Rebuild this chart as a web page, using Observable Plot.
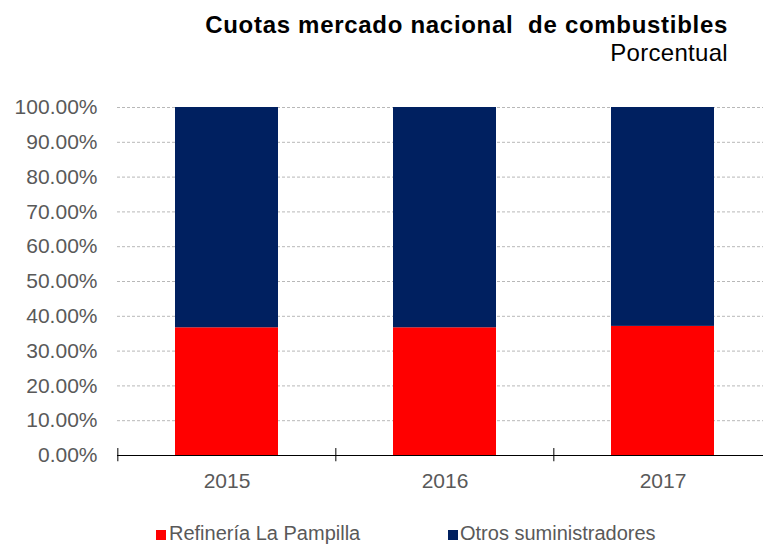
<!DOCTYPE html>
<html>
<head>
<meta charset="utf-8">
<script src="https://cdn.jsdelivr.net/npm/d3@7"></script>
<script src="https://cdn.jsdelivr.net/npm/@observablehq/plot@0.6"></script>
<style>
  html, body { margin: 0; padding: 0; background: #fff; }
  #wrap { position: relative; width: 763px; height: 545px; overflow: hidden; font-family: "Liberation Sans", Arial, sans-serif; }
  #chart { position: absolute; left: 0; top: 0; }
  .t { position: absolute; line-height: 1; white-space: pre; }
  #title { right: 35px; top: 13px; font-size: 24px; font-weight: bold; color: #000; letter-spacing: 0.7px; }
  #subtitle { right: 35px; top: 41px; font-size: 24px; color: #000; letter-spacing: 0.3px; }
  .leg { position: absolute; top: 523px; font-size: 20px; line-height: 1; color: #595959; white-space: pre; }
  .sw { position: absolute; width: 10px; height: 10px; top: 530px; }
</style>
</head>
<body>
<div id="wrap">
  <div id="chart"></div>
  <div id="title" class="t">Cuotas mercado nacional  de combustibles</div>
  <div id="subtitle" class="t">Porcentual</div>
</div>
<script>
const years = ["2015", "2016", "2017"];
const refineria = [36.7, 36.7, 37.1];
const otros = [63.3, 63.3, 62.9];
const seriesNames = ["Refinería La Pampilla", "Otros suministradores"];
const seriesColors = ["#ff0000", "#002060"];
const yTicks = [0, 10, 20, 30, 40, 50, 60, 70, 80, 90, 100];

const rows = [];
years.forEach((y, i) => {
  rows.push({year: y, serie: seriesNames[0], value: refineria[i]});
  rows.push({year: y, serie: seriesNames[1], value: otros[i]});
});

const W = 772, H = 545;
const mL = 117, mR = 0, mT = 107, mB = 90;
const step = (W - mL - mR) / years.length;

const plot = Plot.plot({
  width: W,
  height: H,
  marginLeft: mL,
  marginRight: mR,
  marginTop: mT,
  marginBottom: mB,
  style: {background: "transparent", maxWidth: "none", overflow: "visible", fontFamily: "'Liberation Sans', Arial, sans-serif"},
  x: {domain: years, paddingInner: 0.526, paddingOuter: 0.263, label: null},
  y: {domain: [0, 100], label: null},
  color: {domain: seriesNames, range: seriesColors},
  marks: [
    Plot.ruleY(yTicks.filter(d => d > 0), {stroke: "#b8b8b8", strokeDasharray: "3,2", strokeWidth: 1}),
    Plot.barY(rows, {x: "year", y: "value", fill: "serie", order: seriesNames}),
    Plot.ruleY([0], {stroke: "#000", strokeWidth: 1}),
    Plot.ruleX(years, {x: d => d, dx: -step / 2, y1: -1.8, y2: 2, stroke: "#000", strokeWidth: 1}),
    Plot.axisY({ticks: yTicks, tickSize: 0, tickPadding: 20, tickFormat: d => d.toFixed(2) + "%", fontSize: 21, fill: "#595959", label: null}),
    Plot.axisX({tickSize: 0, tickPadding: 18, fontSize: 21, fill: "#595959", label: null})
  ]
});
document.getElementById("chart").appendChild(plot);

const wrap = document.getElementById("wrap");
const legX = [{sw: 156, tx: 169}, {sw: 448, tx: 460}];
seriesNames.forEach((name, i) => {
  const sw = document.createElement("div");
  sw.className = "sw";
  sw.style.left = legX[i].sw + "px";
  sw.style.background = seriesColors[i];
  wrap.appendChild(sw);
  const t = document.createElement("div");
  t.className = "leg";
  t.style.left = legX[i].tx + "px";
  t.textContent = name;
  wrap.appendChild(t);
});
</script>
</body>
</html>
